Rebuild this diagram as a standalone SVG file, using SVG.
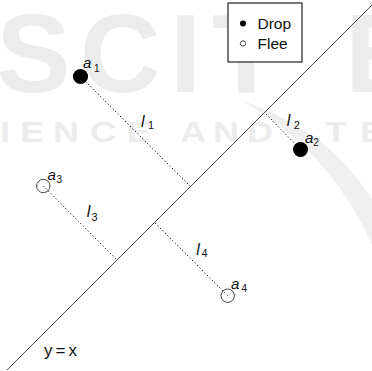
<svg xmlns="http://www.w3.org/2000/svg" width="372" height="371" viewBox="0 0 372 371">
<style>
.wm{font-family:"Liberation Sans",Arial,sans-serif;font-weight:bold;fill:#ececec}
.lbl{font-family:"Liberation Sans",Arial,sans-serif;fill:#111}
.it{font-style:italic}
.dot{stroke:#222;stroke-width:1;stroke-dasharray:1.3 2.2;fill:none}
.drop{fill:#000}
.flee{fill:none;stroke:#444;stroke-width:1}
</style>
<rect width="372" height="371" fill="#fff"/>
<g id="watermark">
<text class="wm" font-size="112" x="-4 80 170 212 345" y="92">SCITE</text>
<text class="wm" font-size="29" transform="scale(1.25,1)" x="0 16 42.4 72 101.6 144 170.4 197.6 260 288" y="142">IENCEANDTE</text>
<path d="M240 100 Q330 130 372 200 L372 245 Q330 150 240 100 Z" fill="#efefef"/>
</g>
<g id="legend">
<rect x="228" y="3" width="74" height="59" fill="#fff" stroke="#333" stroke-width="1.3"/>
<circle cx="243" cy="23.5" r="3" class="drop"/>
<circle cx="243" cy="43.5" r="2.7" class="flee" stroke="#222"/>
<text class="lbl" x="257.5" y="29" font-size="15.5">Drop</text>
<text class="lbl" x="257.5" y="49" font-size="15.5">Flee</text>
</g>
<g id="line-yx">
<line x1="7" y1="370" x2="372" y2="5" stroke="#4a4a4a" stroke-width="1"/>
<text class="lbl" x="44" y="355.5" font-size="17" textLength="33" lengthAdjust="spacing">y = x</text>
</g>
<g id="connectors">
<line class="dot" x1="80.5" y1="76.5" x2="190" y2="186"/>
<line class="dot" x1="266" y1="114" x2="300.5" y2="149.5"/>
<line class="dot" x1="43.3" y1="186" x2="116" y2="259"/>
<line class="dot" x1="155" y1="223" x2="227.7" y2="295.7"/>
</g>
<g id="a1">
<circle cx="80.5" cy="76.5" r="7.6" class="drop"/>
<text class="lbl it" x="83" y="68" font-size="15">a</text>
<text class="lbl" x="94" y="71.7" font-size="10">1</text>
</g>
<g id="a2">
<circle cx="300.5" cy="149.5" r="7.5" class="drop"/>
<text class="lbl it" x="305" y="143" font-size="15">a</text>
<text class="lbl" x="313.3" y="146" font-size="10">2</text>
</g>
<g id="a3">
<circle cx="43.3" cy="186" r="6.7" class="flee"/>
<text class="lbl it" x="47.5" y="179.5" font-size="15">a</text>
<text class="lbl" x="56.5" y="182.5" font-size="10">3</text>
</g>
<g id="a4">
<circle cx="227.7" cy="295.7" r="6.7" class="flee"/>
<text class="lbl it" x="231" y="289.3" font-size="15">a</text>
<text class="lbl" x="241.5" y="292.3" font-size="10">4</text>
</g>
<g id="l-labels">
<text class="lbl it" x="141" y="126.7" font-size="16">l</text>
<text class="lbl" x="148" y="128.5" font-size="11">1</text>
<text class="lbl it" x="286.8" y="126" font-size="16">l</text>
<text class="lbl" x="293.8" y="128.5" font-size="11">2</text>
<text class="lbl it" x="86.8" y="216.7" font-size="16">l</text>
<text class="lbl" x="91.5" y="220.7" font-size="11">3</text>
<text class="lbl it" x="196.2" y="255" font-size="16">l</text>
<text class="lbl" x="201.5" y="256.8" font-size="11">4</text>
</g>
</svg>
